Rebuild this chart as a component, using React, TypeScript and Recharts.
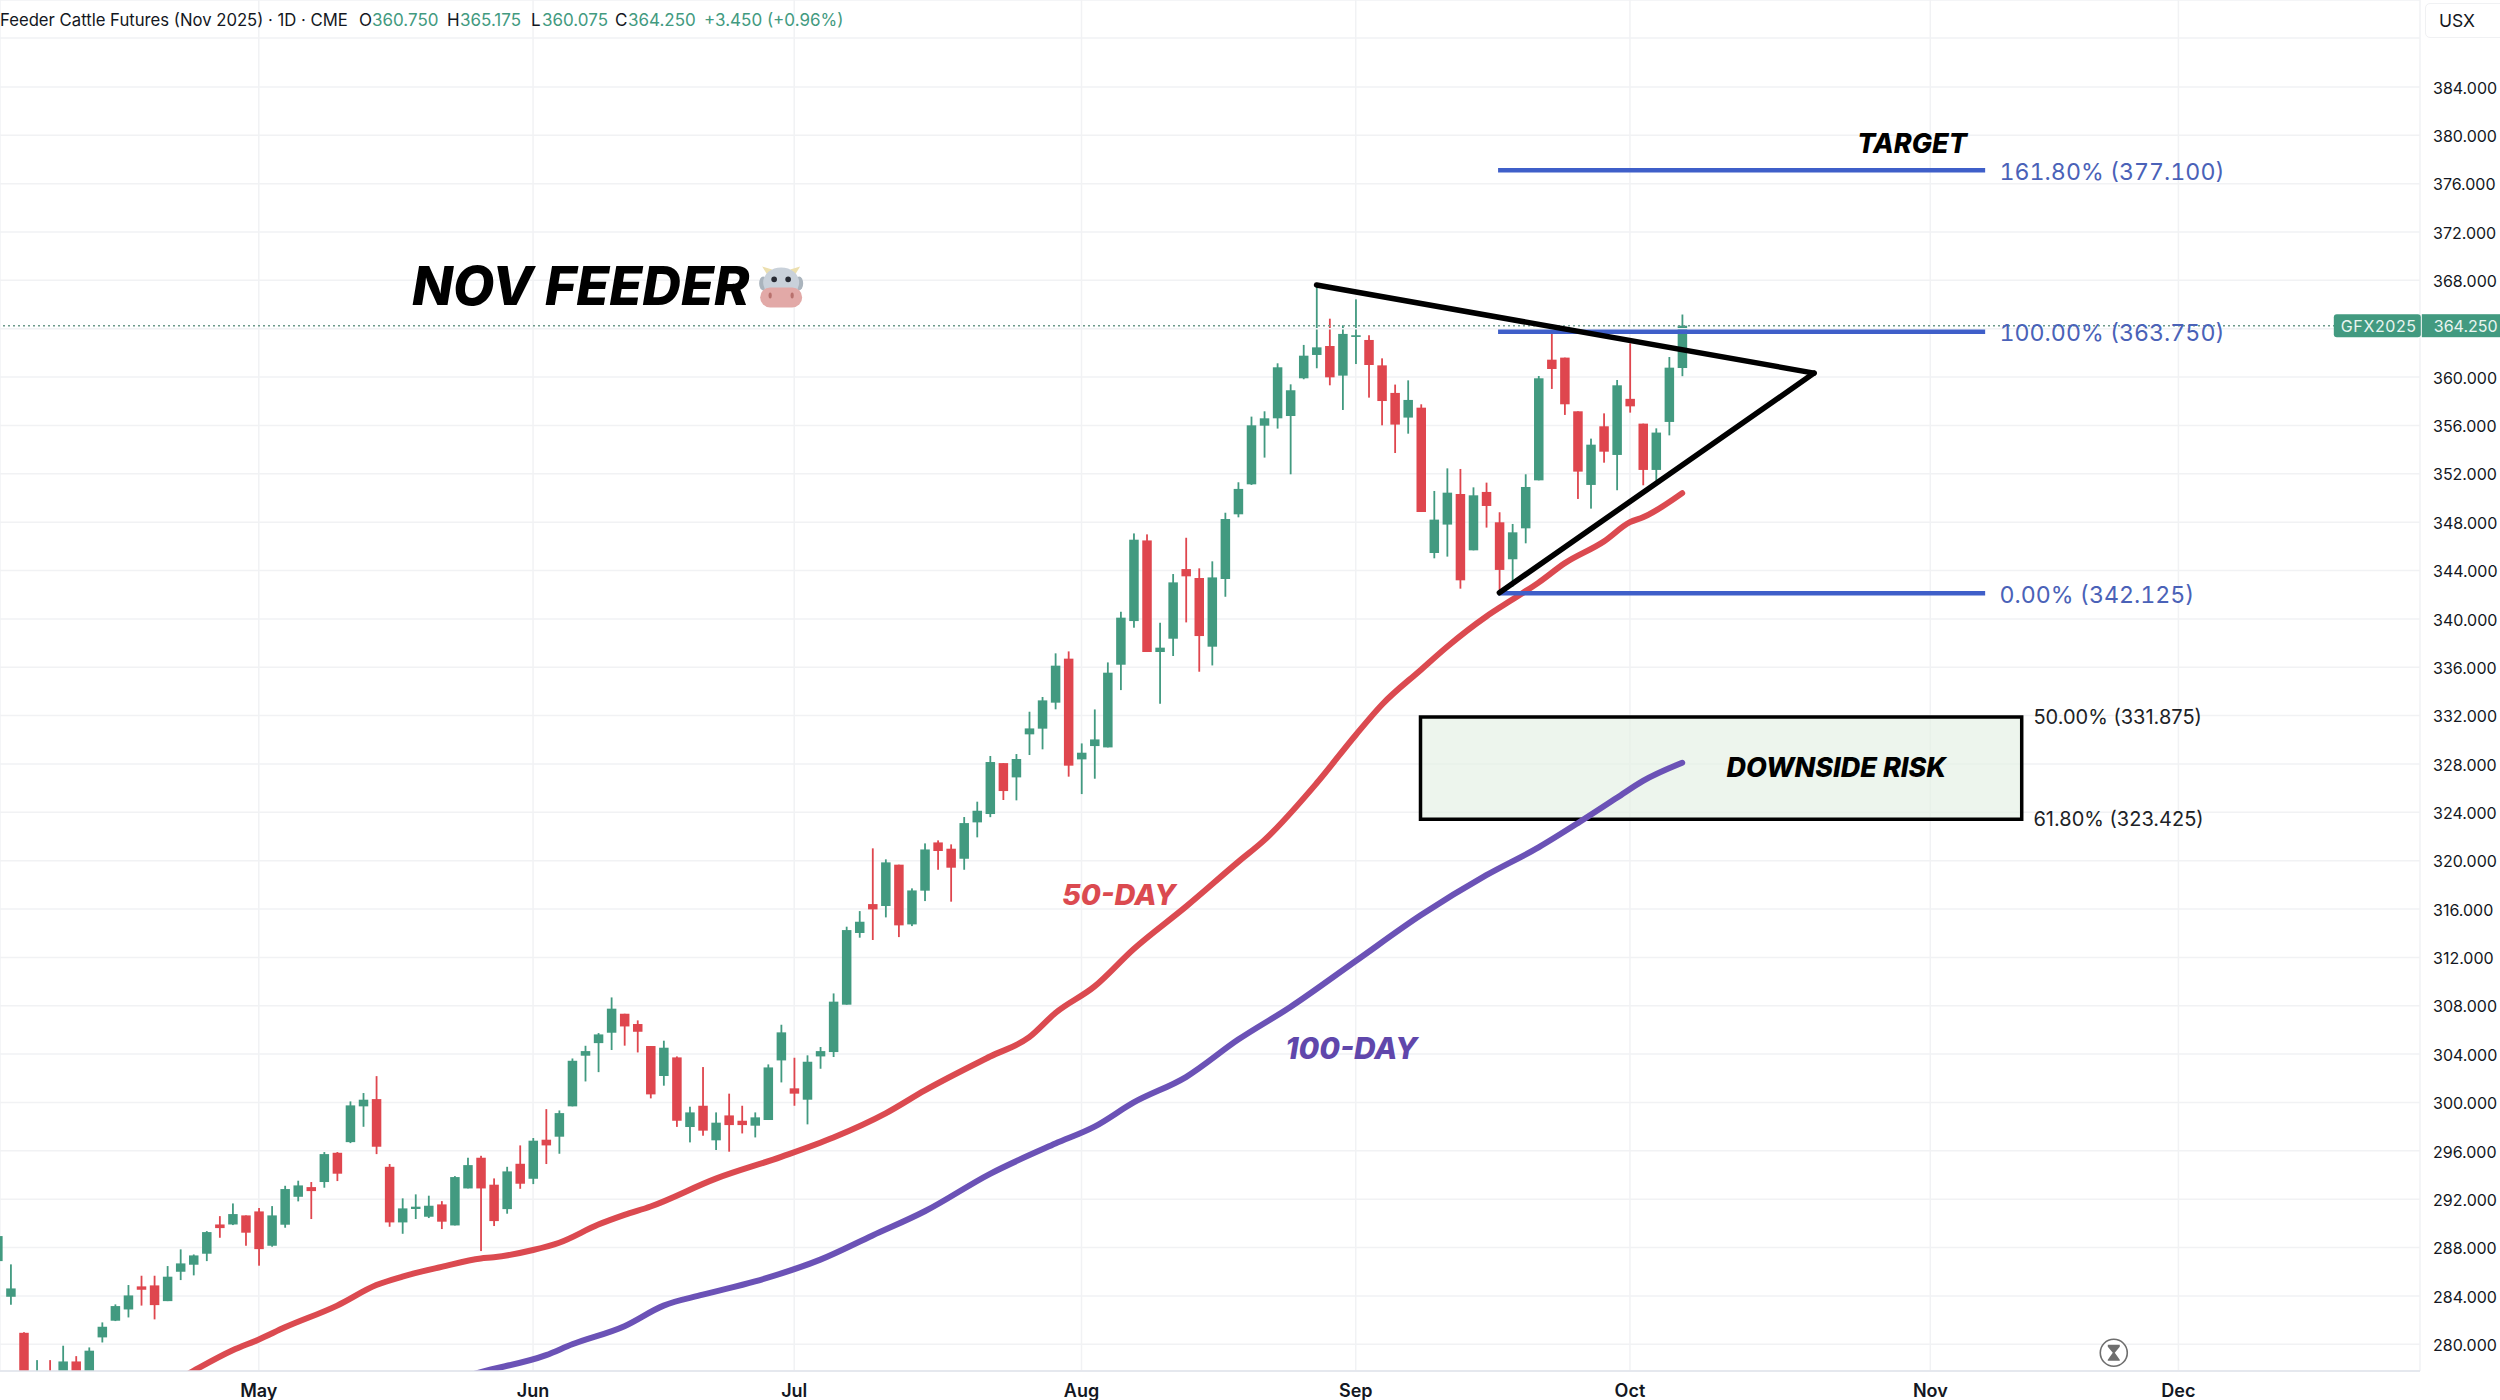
import React from "react";
import {
  ComposedChart, Bar, Line, XAxis, YAxis, CartesianGrid,
  ReferenceLine, ReferenceArea, ReferenceDot,
} from "recharts";

const firstSession = -1;
const opens = [
  286.88, 283.93, 280.95, 276.0, 277.5, 277.0, 278.58, 277.2, 280.57, 281.95, 282.88, 284.79, 284.87, 283.57, 286.0, 286.58, 287.49, 289.91, 289.91, 290.66,
  290.99, 288.15, 289.89, 292.2, 293.0, 293.42, 295.84, 296.72, 299.68, 300.28, 294.68, 290.08, 291.19, 290.55, 291.57, 289.83, 292.89, 295.43, 293.2, 291.18,
  294.93, 293.69, 296.92, 297.17, 299.68, 303.87, 304.91, 305.77, 307.34, 306.49, 304.67, 302.19, 303.73, 297.97, 299.73, 296.87, 298.93, 298.49, 298.08, 298.55,
  303.48, 301.17, 300.23, 303.81, 304.17, 308.09, 314.02, 316.41, 316.25, 319.67, 314.73, 317.52, 321.51, 320.99, 320.16, 323.17, 323.86, 328.07, 326.89, 330.45,
  330.92, 333.07, 336.71, 328.38, 329.48, 329.37, 336.21, 339.82, 346.49, 337.26, 338.36, 344.12, 343.38, 337.7, 343.3, 348.65, 351.13, 355.98, 356.59, 356.78,
  359.9, 361.83, 362.57, 360.12, 363.32, 363.07, 360.97, 358.69, 356.65, 357.47, 345.45, 347.8, 350.33, 345.67, 350.5, 347.99, 344.93, 347.49, 351.46, 361.44,
  361.61, 357.17, 351.08, 355.93, 353.56, 358.2, 356.15, 352.32, 356.29, 360.75,
];
const highs = [
  289.0, 286.61, 281.0, 278.69, 278.69, 279.88, 279.02, 279.74, 281.81, 283.3, 284.9, 285.67, 285.67, 286.47, 287.85, 287.43, 289.36, 290.6, 291.65, 290.66,
  291.27, 291.43, 293.11, 293.53, 293.42, 295.9, 295.9, 300.09, 300.78, 302.18, 294.91, 292.07, 292.4, 292.29, 291.84, 293.91, 295.43, 295.59, 293.72, 294.68,
  296.45, 297.06, 299.45, 299.34, 303.64, 304.69, 305.74, 308.69, 307.34, 306.79, 304.67, 305.11, 303.81, 299.65, 302.93, 299.18, 300.73, 299.73, 299.18, 303.15,
  306.43, 303.7, 303.9, 304.59, 309.02, 314.54, 315.83, 321.02, 320.11, 319.67, 317.71, 321.43, 321.68, 321.35, 323.61, 324.88, 328.66, 328.07, 328.82, 332.32,
  333.54, 337.15, 337.31, 329.7, 332.51, 336.4, 340.59, 347.07, 346.99, 339.68, 343.71, 346.71, 344.18, 344.76, 348.78, 351.3, 356.73, 357.17, 361.14, 359.4,
  362.66, 367.62, 364.83, 364.28, 366.43, 363.46, 361.55, 359.38, 359.73, 357.75, 350.58, 352.45, 352.4, 350.88, 351.27, 348.82, 347.85, 351.96, 360.09, 363.76,
  361.61, 357.17, 354.91, 357.0, 359.76, 362.79, 356.15, 355.76, 361.66, 365.175,
];
const lows = [
  286.5, 283.27, 276.5, 275.5, 276.0, 276.5, 276.8, 276.9, 280.15, 281.92, 282.22, 283.2, 282.06, 283.57, 285.31, 285.7, 286.88, 288.81, 289.86, 288.15,
  286.5, 288.07, 289.64, 291.82, 290.36, 292.95, 293.5, 296.64, 297.99, 295.73, 289.72, 289.14, 290.36, 290.44, 289.53, 289.83, 292.89, 287.71, 289.78, 290.8,
  292.86, 293.25, 294.91, 295.76, 299.68, 301.74, 302.51, 304.34, 304.7, 304.14, 300.34, 301.39, 297.98, 296.7, 297.25, 296.07, 295.93, 297.44, 297.11, 298.55,
  301.66, 299.73, 298.19, 302.79, 303.76, 308.09, 313.63, 313.44, 315.31, 313.68, 314.59, 316.66, 319.25, 316.61, 319.25, 321.93, 323.6, 325.02, 324.99, 328.74,
  329.21, 332.52, 326.95, 325.51, 326.78, 329.37, 334.11, 339.27, 337.26, 332.98, 336.93, 339.71, 335.63, 336.15, 341.83, 348.4, 351.08, 353.34, 355.74, 351.96,
  359.82, 360.73, 359.32, 357.28, 361.08, 358.3, 356.01, 353.72, 355.32, 348.84, 345.01, 345.15, 342.5, 345.67, 347.55, 342.12, 342.67, 346.25, 351.46, 359.02,
  356.87, 349.92, 349.12, 352.92, 350.64, 357.06, 351.05, 351.43, 355.18, 360.075,
];
const closes = [
  288.95, 284.62, 277.0, 277.5, 276.5, 278.58, 277.2, 279.47, 281.45, 283.16, 284.04, 284.51, 283.24, 285.59, 286.69, 287.35, 289.28, 289.61, 290.77, 289.23,
  287.87, 290.66, 292.84, 293.14, 292.67, 295.73, 294.11, 299.76, 300.23, 296.34, 290.08, 291.24, 291.38, 291.46, 290.14, 293.83, 294.82, 292.89, 290.19, 294.3,
  293.28, 296.84, 296.45, 299.12, 303.45, 304.25, 305.63, 307.76, 306.29, 305.85, 300.67, 304.53, 298.49, 299.18, 297.67, 298.33, 298.13, 298.13, 298.77, 302.9,
  305.8, 300.73, 303.37, 304.25, 308.34, 314.26, 314.95, 315.97, 319.86, 314.65, 317.54, 320.93, 320.8, 319.42, 323.11, 324.13, 328.16, 325.76, 328.41, 330.94,
  333.26, 336.13, 327.86, 328.93, 330.03, 335.55, 340.1, 346.55, 337.26, 337.62, 343.02, 343.52, 338.58, 343.43, 348.26, 350.75, 356.01, 356.59, 360.81, 358.91,
  361.77, 362.46, 359.98, 363.57, 363.46, 361.0, 358.02, 356.07, 358.11, 348.84, 348.21, 350.44, 343.19, 350.22, 349.34, 344.05, 347.16, 350.91, 359.9, 360.67,
  357.75, 352.18, 354.41, 353.83, 359.32, 357.58, 352.32, 355.41, 360.78, 364.25,
];

const sma50Sessions = [13, 14, 17, 19, 21, 25, 28, 30, 33, 36, 37, 40, 42, 45, 47, 49, 54, 59, 63, 67, 70, 75, 78, 80, 83, 86, 90, 94, 96, 100, 103, 105, 108, 110, 113, 115, 117, 119, 122, 124, 125, 128];
const sma50Values = [277.2, 277.8, 279.5, 280.4, 281.4, 283.2, 284.9, 285.6, 286.4, 287.1, 287.2, 287.8, 288.4, 289.9, 290.7, 291.4, 293.7, 295.5, 297.1, 299.1, 301.0, 303.8, 305.4, 307.4, 309.6, 312.7, 316.2, 319.9, 321.7, 326.4, 330.4, 332.9, 335.8, 337.7, 340.2, 341.6, 343.0, 344.6, 346.4, 348.0, 348.4, 350.4];
const sma100Sessions = [35, 36, 41, 43, 47, 50, 53, 57, 62, 66, 70, 75, 80, 83, 86, 90, 94, 98, 103, 108, 113, 117, 120, 123, 125, 128];
const sma100Values = [277.4, 277.7, 279.1, 280.0, 281.5, 283.2, 284.1, 285.2, 287.0, 289.0, 291.0, 294.1, 296.6, 298.0, 300.0, 302.1, 305.2, 307.9, 311.7, 315.5, 318.8, 321.1, 323.1, 325.2, 326.6, 328.1];

const monthLabels = ["May", "Jun", "Jul", "Aug", "Sep", "Oct", "Nov", "Dec"];
const monthSessions = [19, 40, 60, 82, 103, 124, 147, 166];
const priceTicks = [280, 284, 288, 292, 296, 300, 304, 308, 312, 316, 320, 324, 328, 332, 336, 340, 344, 348, 352, 356, 360, 368, 372, 376, 380, 384];

const fibLevels = [377.1, 363.75, 342.125];
const fibLabels = ["161.80% (377.100)", "100.00% (363.750)", "0.00% (342.125)"];
const lastPrice = 364.25;

const GREEN = "#429a80";
const RED = "#df464e";
const INK = "#131722";
const GRID = "#f1f2f4";
const FONT = "Inter, sans-serif";

const rows = opens.map((open, i) => {
  const k = firstSession + i;
  const a = sma50Sessions.indexOf(k);
  const b = sma100Sessions.indexOf(k);
  return {
    k, open, high: highs[i], low: lows[i], close: closes[i],
    range: [lows[i], highs[i]],
    sma50: a >= 0 ? sma50Values[a] : null,
    sma100: b >= 0 ? sma100Values[b] : null,
  };
});

const Candle = (p: any) => {
  const { x, y, width, height, payload } = p;
  const { open, close, high, low } = payload;
  const unit = height / (high - low);
  const top = y + (high - Math.max(open, close)) * unit;
  const bh = Math.max(Math.abs(open - close) * unit, 1.5);
  const color = close >= open ? GREEN : RED;
  const cx = x + width / 2;
  return (
    <g>
      <rect x={cx - 0.9} y={y} width={1.8} height={height} fill={color} />
      <rect x={x} y={top} width={width} height={bh} fill={color} />
    </g>
  );
};

const note = (text: string, size: number, fill: string, extra: any = {}) => (p: any) => (
  <text x={p.cx} y={p.cy} fontSize={size} fill={fill} fontFamily={FONT} dominantBaseline="central" {...extra}>
    {text}
  </text>
);
const bold = { fontWeight: 800, fontStyle: "italic" };
const tabular = { style: { fontVariantNumeric: "tabular-nums" }, dy: 1.5 };

const Cow = (p: any) => {
  const { cx, cy } = p;
  return (
    <g transform={`translate(${cx},${cy})`}>
      <path d="M-14,-12 L-19,-20 L-9,-17 Z M14,-12 L19,-20 L9,-17 Z" fill="#ecdfae" />
      <ellipse cx={-18} cy={-3} rx={4} ry={7} fill="#aab4bd" />
      <ellipse cx={18} cy={-3} rx={4} ry={7} fill="#aab4bd" />
      <ellipse cx={0} cy={-4} rx={18} ry={15} fill="#c9d1da" />
      <rect x={-21} y={1} width={42} height={20} rx={10} fill="#e2a9a7" />
      <circle cx={-7} cy={-7} r={2.8} fill="#272a33" />
      <circle cx={7} cy={-7} r={2.8} fill="#272a33" />
      <ellipse cx={-11} cy={9} rx={1.6} ry={3} fill="#b8716d" />
      <ellipse cx={11} cy={9} rx={1.6} ry={3} fill="#b8716d" />
    </g>
  );
};

const Hourglass = (p: any) => {
  const { cx, cy } = p;
  return (
    <g transform={`translate(${cx},${cy})`}>
      <circle r={13.5} fill="#fff" stroke="#6e6e6e" strokeWidth={1.6} />
      <path d="M-6,-8 H6 V-6 L1,0 L6,7 V8 H-6 V7 L-1,0 L-6,-6 Z" fill="#6e6e6e" />
    </g>
  );
};

const PricePill = (p: any) => {
  const { cx, cy } = p;
  return (
    <g fontFamily={FONT} fontSize={16} fill="#e9f5f0">
      <rect x={cx} y={cy - 11.5} width={87} height={23} rx={3} fill={GREEN} />
      <rect x={cx + 88} y={cy - 11.5} width={80} height={23} rx={0} fill={GREEN} />
      <text x={cx + 7} y={cy} dominantBaseline="central" letterSpacing={0.6}>GFX2025</text>
      <text x={cx + 100} y={cy} dominantBaseline="central">364.250</text>
    </g>
  );
};

const header = [
  { left: 0, text: "Feeder Cattle Futures (Nov 2025) · 1D · CME", color: INK },
  { left: 359, text: "O", color: INK },
  { left: 372, text: "360.750", color: GREEN },
  { left: 447, text: "H", color: INK },
  { left: 460, text: "365.175", color: GREEN },
  { left: 531, text: "L", color: INK },
  { left: 542, text: "360.075", color: GREEN },
  { left: 615, text: "C", color: INK },
  { left: 628, text: "364.250", color: GREEN },
  { left: 704, text: "+3.450 (+0.96%)", color: GREEN },
];

export default function App() {
  return (
    <div style={{ position: "absolute", left: 0, top: 0, width: 2500, height: 1400, background: "#fff", overflow: "hidden" }}>
      <ComposedChart
        width={2500}
        height={1400}
        data={rows}
        margin={{ top: 0, right: 0, bottom: 0, left: 0 }}
      >
        <CartesianGrid stroke={GRID} strokeWidth={1.5} />
        <XAxis
          dataKey="k"
          type="number"
          domain={[-0.82, 184.5]}
          ticks={monthSessions}
          allowDataOverflow
          tickFormatter={(v: number) => monthLabels[monthSessions.indexOf(v)]}
          tick={{ fontSize: 18, fontWeight: 600, fill: INK, fontFamily: FONT }}
          tickLine={false}
          axisLine={{ stroke: "#e0e3eb", strokeWidth: 1.5 }}
          tickMargin={7}
          interval={0}
          height={29}
        />
        <YAxis
          orientation="right"
          type="number"
          domain={[277.79, 391.19]}
          ticks={priceTicks}
          allowDataOverflow
          tickFormatter={(v: number) => v.toFixed(3)}
          tick={{ fontSize: 16, fill: INK, fontFamily: FONT, dy: 1 }}
          tickLine={false}
          axisLine={false}
          tickMargin={7}
          interval={0}
          width={80}
        />
        <ReferenceLine y={388.04} stroke={GRID} strokeWidth={1.5} />
        <ReferenceLine y={364} stroke={GRID} strokeWidth={1.5} />
        <ReferenceArea x1={107.96} x2={154.0} y1={323.425} y2={331.875} fill="#e3efe3" fillOpacity={0.65} stroke="#000" strokeWidth={3.5} ifOverflow="visible" />
        <ReferenceLine y={lastPrice} segment={[{ x: -0.82, y: lastPrice }, { x: 177.9, y: lastPrice }]} stroke="#6d9a8b" strokeWidth={1.5} strokeDasharray="2 3" />
        <Bar dataKey="range" barSize={9.5} shape={<Candle />} isAnimationActive={false} />
        <Line type="monotone" dataKey="sma50" stroke="#db4a50" strokeWidth={6} strokeLinecap="round" dot={false} connectNulls isAnimationActive={false} />
        <Line type="monotone" dataKey="sma100" stroke="#6b52b6" strokeWidth={6} strokeLinecap="round" dot={false} connectNulls isAnimationActive={false} />
        {fibLevels.map((v) => (
          <ReferenceLine key={v} segment={[{ x: 113.9, y: v }, { x: 151.2, y: v }]} stroke="#3f5fc9" strokeWidth={4.5} />
        ))}
        <ReferenceLine segment={[{ x: 100, y: 367.61 }, { x: 138.1, y: 360.33 }]} stroke="#000" strokeWidth={5.5} strokeLinecap="round" />
        <ReferenceLine segment={[{ x: 114, y: 342.16 }, { x: 138.1, y: 360.33 }]} stroke="#000" strokeWidth={5.5} strokeLinecap="round" />

        {fibLevels.map((v, i) => (
          <ReferenceDot key={fibLabels[i]} x={152.3} y={v} r={0} ifOverflow="visible" shape={note(fibLabels[i], 23.2, "#4a62b8", tabular)} />
        ))}
        <ReferenceDot x={154.9} y={331.875} r={0} ifOverflow="visible" shape={note("50.00% (331.875)", 20, "#202226")} />
        <ReferenceDot x={154.9} y={323.425} r={0} ifOverflow="visible" shape={note("61.80% (323.425)", 20, "#202226")} />
        <ReferenceDot x={30.73} y={367.56} r={0} ifOverflow="visible" shape={note("NOV FEEDER", 53.5, "#000", bold)} />
        <ReferenceDot x={59} y={367.5} r={0} ifOverflow="visible" shape={<Cow />} />
        <ReferenceDot x={141.4} y={379.3} r={0} ifOverflow="visible" shape={note("TARGET", 27, "#000", bold)} />
        <ReferenceDot x={131.4} y={327.7} r={0} ifOverflow="visible" shape={note("DOWNSIDE RISK", 27, "#000", bold)} />
        <ReferenceDot x={80.5} y={317.2} r={0} ifOverflow="visible" shape={note("50-DAY", 29, "#db4a50", bold)} />
        <ReferenceDot x={97.6} y={304.5} r={0} ifOverflow="visible" shape={note("100-DAY", 30, "#6047ab", bold)} />
        <ReferenceDot x={161.05} y={279.3} r={0} ifOverflow="visible" shape={<Hourglass />} />
        <ReferenceDot x={177.9} y={lastPrice} r={0} ifOverflow="visible" shape={<PricePill />} />
      </ComposedChart>
      {header.map((h) => (
        <span key={h.left} style={{ position: "absolute", left: h.left, top: 10, fontFamily: FONT, fontSize: h.left === 0 ? 16.7 : 17, lineHeight: "20px", color: h.color, whiteSpace: "nowrap" }}>
          {h.text}
        </span>
      ))}
      <div style={{ position: "absolute", left: 2425, top: 3, width: 90, height: 35, background: "#fff", border: "1px solid #f0f1f3", borderRadius: 5, boxSizing: "border-box" }} />
      <span style={{ position: "absolute", left: 2439, top: 11, fontFamily: FONT, fontSize: 17.5, lineHeight: "20px", color: INK }}>USX</span>
    </div>
  );
}
